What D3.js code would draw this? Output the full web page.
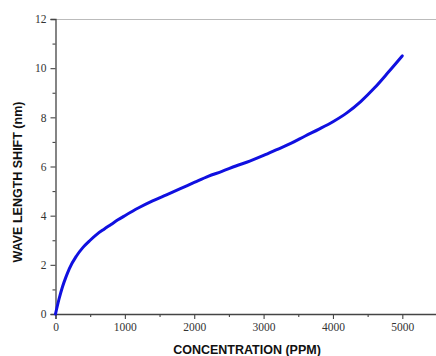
<!DOCTYPE html>
<html>
<head>
<meta charset="utf-8">
<script src="https://cdn.jsdelivr.net/npm/d3@7"></script>
<style>
  html, body { margin: 0; padding: 0; background: #fff; }
  svg { display: block; }
  .tick text { font-family: "Liberation Serif", "DejaVu Serif", serif !important; }
</style>
</head>
<body>
<svg id="chart" width="436" height="356"></svg>
<script>
// Concentration (PPM) and the measured wavelength shift (nm)
const concentration = [0, 50, 100, 150, 200, 300, 400, 500, 600, 700, 800, 900, 1000, 1200, 1400, 1600, 1800, 2000, 2200, 2400, 2600, 2800, 3000, 3200, 3400, 3600, 3800, 4000, 4200, 4400, 4600, 4800, 5000];
const shift = [0, 0.6, 1.1, 1.5, 1.85, 2.35, 2.72, 3.0, 3.25, 3.45, 3.64, 3.83, 4.0, 4.32, 4.6, 4.85, 5.1, 5.35, 5.6, 5.8, 6.02, 6.22, 6.45, 6.7, 6.95, 7.24, 7.52, 7.82, 8.18, 8.64, 9.2, 9.84, 10.5];

const xMajorTicks = [0, 1000, 2000, 3000, 4000, 5000];
const xMinorTicks = [500, 1500, 2500, 3500, 4500];
const yMajorTicks = [0, 2, 4, 6, 8, 10, 12];
const yMinorTicks = [1, 3, 5, 7, 9, 11];

const xTitle = "CONCENTRATION (PPM)";
const yTitle = "WAVE LENGTH SHIFT (nm)";

const svg = d3.select("#chart");
const plotLeft = 55.5, plotBottom = 314, plotTop = 19;

const x = d3.scaleLinear().domain([0, 5500]).range([plotLeft, plotLeft + 381.5]);
const y = d3.scaleLinear().domain([0, 12]).range([plotBottom, plotTop]);

const axisColor = "#444";

// top frame line
svg.append("line")
  .attr("x1", plotLeft).attr("x2", 436)
  .attr("y1", plotTop + 0.5).attr("y2", plotTop + 0.5)
  .attr("stroke", "#bbb").attr("stroke-width", 1.2);

// x axis
const gx = svg.append("g").attr("transform", `translate(0,${plotBottom})`);
gx.call(d3.axisBottom(x).tickValues(xMajorTicks).tickSize(5).tickPadding(4).tickFormat(d3.format("d")));
gx.append("g").call(d3.axisBottom(x).tickValues(xMinorTicks).tickSize(3).tickFormat(""))
  .select(".domain").remove();

// y axis
const gy = svg.append("g").attr("transform", `translate(${plotLeft},0)`);
gy.call(d3.axisLeft(y).tickValues(yMajorTicks).tickSize(5).tickPadding(4).tickFormat(d3.format("d")));
gy.append("g").call(d3.axisLeft(y).tickValues(yMinorTicks).tickSize(3).tickFormat(""))
  .select(".domain").remove();

svg.selectAll(".domain").attr("stroke", axisColor).attr("stroke-width", 1.3);
svg.selectAll(".tick line").attr("stroke", axisColor).attr("stroke-width", 1.1);
svg.selectAll(".tick text")
  .style("font-size", "11.5px")
  .attr("fill", "#333");

// curve
const points = concentration.map((c, i) => [c, shift[i]]);
const line = d3.line()
  .x(d => x(d[0]))
  .y(d => y(d[1]))
  .curve(d3.curveMonotoneX);

svg.append("path")
  .datum(points)
  .attr("fill", "none")
  .attr("stroke", "#1010e0")
  .attr("stroke-width", 3)
  .attr("stroke-linecap", "round")
  .attr("d", line);

// axis titles
svg.append("text")
  .attr("x", 247).attr("y", 354)
  .attr("text-anchor", "middle")
  .style("font-family", "'Liberation Sans', Arial, sans-serif")
  .style("font-weight", "bold")
  .style("font-size", "12.5px")
  .attr("fill", "#111")
  .text(xTitle);

svg.append("text")
  .attr("transform", "translate(22,182) rotate(-90)")
  .attr("text-anchor", "middle")
  .style("font-family", "'Liberation Sans', Arial, sans-serif")
  .style("font-weight", "bold")
  .style("font-size", "12.5px")
  .attr("fill", "#111")
  .text(yTitle);
</script>
</body>
</html>
